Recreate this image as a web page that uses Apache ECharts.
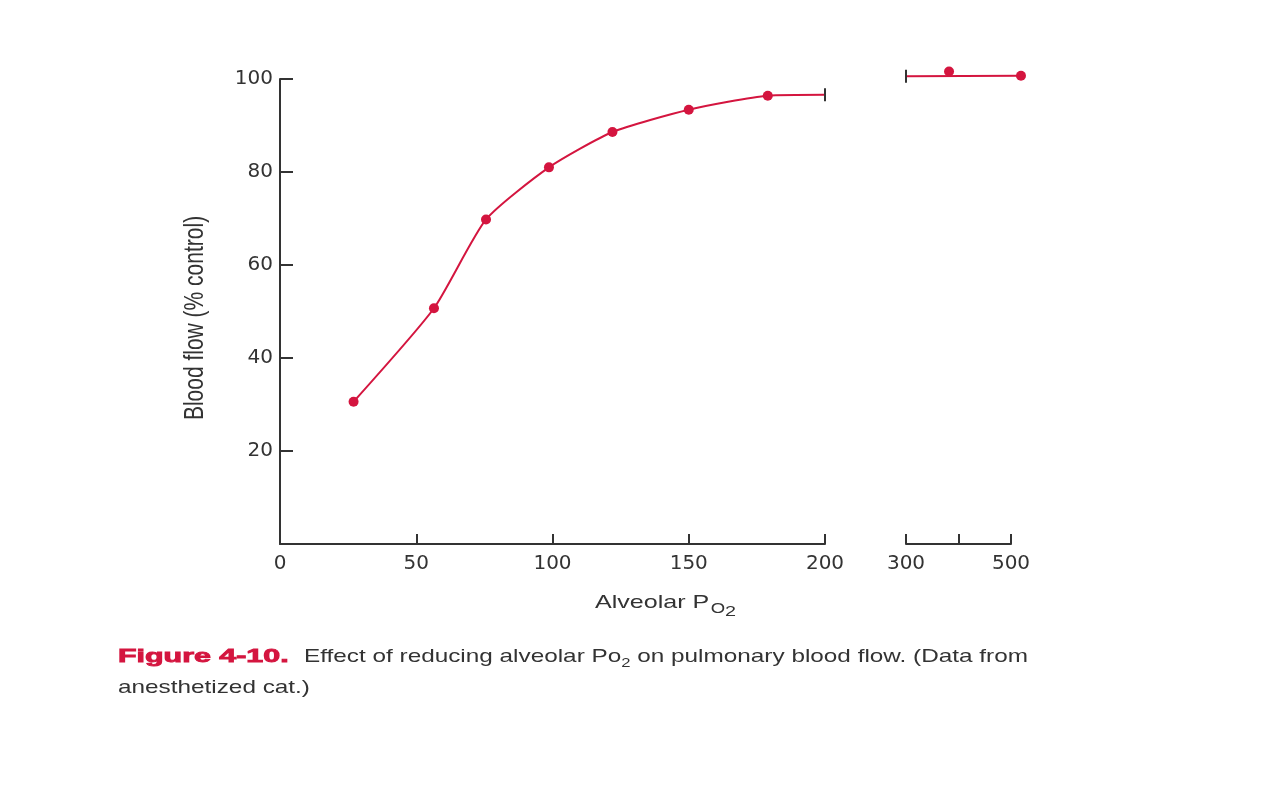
<!DOCTYPE html>
<html lang="en">
<head>
    <meta charset="UTF-8">
    <title>Figure 4-10</title>
    <style>
        html, body { margin: 0; padding: 0; background: #fff; }
    </style>
</head>
<body>
<div id="main" style="width: 1268px;height:788px;"></div>
<script src="https://cdn.jsdelivr.net/npm/echarts@6/dist/echarts.min.js"></script>

<script>
    // measured points, left part of the broken axis (PO2 0-200)
    var lowPo2 = [27, 56.5, 75.6, 98.7, 122, 150, 179];
    var lowFlow = [30.6, 50.7, 69.8, 81, 88.6, 93.4, 96.4];
    // where the left curve stops at the break
    var lowEnd = [200, 96.6];

    // measured points, right part (PO2 300-500)
    var highPo2 = [382, 519];
    var highFlow = [101.6, 100.7];
    // where the right curve starts after the break
    var highStart = [300, 100.6];

    var yTicks = [20, 40, 60, 80, 100];
    var lowTicks = [0, 50, 100, 150, 200];
    var highTicks = [300, 400, 500];
    var highLabels = ['300', '', '500'];

    var red = '#d4153f';
    var ink = '#333333';
    var font = '"Liberation Sans", Arial, Helvetica, sans-serif';
    var tickFont = '"DejaVu Sans", "Liberation Sans", sans-serif';
</script>
<script>
    var myChart = echarts.init(document.getElementById('main'));

    function pairs(xs, ys) {
        var out = [];
        for (var i = 0; i < xs.length; i++) {
            out.push([xs[i], ys[i]]);
        }
        return out;
    }

    var lowPts = pairs(lowPo2, lowFlow);
    var highPts = pairs(highPo2, highFlow);
    var lowCurve = lowPts.concat([lowEnd]);
    var highCurve = [highStart].concat([highPts[highPts.length - 1]]);

    var axisLine = {show: true, lineStyle: {color: ink, width: 2}};
    var xTick = {show: true, inside: true, length: 10, lineStyle: {color: ink, width: 2}};
    var yTick = {show: true, inside: true, length: 13, lineStyle: {color: ink, width: 2}};
    var labelStyle = {color: ink, fontSize: 20, fontFamily: tickFont};

    // right part: the visible axis stops at 500, the data run a bit past it,
    // so the marks sit on a hidden grid with the same scale (0.525 px per unit)
    var highPx = 105 / (500 - 300);
    var highDataMax = 520;

    var option = {
        animation: false,
        backgroundColor: '#fff',
        grid: [
            {left: 280, top: 79, width: 545, height: 465},
            {left: 906, top: 79, width: 105, height: 465},
            {left: 906, top: 79, width: (highDataMax - 300) * highPx, height: 465}
        ],
        xAxis: [
            {
                type: 'value', gridIndex: 0, min: 0, max: 200, interval: 50,
                axisLine: axisLine,
                axisTick: xTick,
                splitLine: {show: false},
                axisLabel: Object.assign({margin: 10, showMinLabel: true, showMaxLabel: true}, labelStyle)
            },
            {
                type: 'value', gridIndex: 1, min: 300, max: 500, interval: 100,
                axisLine: axisLine,
                axisTick: xTick,
                splitLine: {show: false},
                axisLabel: Object.assign({
                    margin: 10,
                    showMinLabel: true, showMaxLabel: true,
                    formatter: function (v) {
                        var i = highTicks.indexOf(v);
                        return i >= 0 ? highLabels[i] : '';
                    }
                }, labelStyle)
            },
            {
                type: 'value', gridIndex: 2, min: 300, max: highDataMax, show: false
            }
        ],
        yAxis: [
            {
                type: 'value', gridIndex: 0, min: 0, max: 100, interval: 20,
                axisLine: axisLine,
                axisTick: yTick,
                splitLine: {show: false},
                axisLabel: Object.assign({
                    margin: 7,
                    formatter: function (v) { return yTicks.indexOf(v) >= 0 ? String(v) : ''; }
                }, labelStyle)
            },
            {
                type: 'value', gridIndex: 1, min: 0, max: 100, show: false
            },
            {
                type: 'value', gridIndex: 2, min: 0, max: 100, show: false
            }
        ],
        graphic: [
            {
                type: 'text', x: 195, y: 318, rotation: Math.PI / 2, scaleY: 1.3,
                style: {
                    text: 'Blood flow (% control)',
                    x: 0, y: 0, align: 'center', verticalAlign: 'middle',
                    fontFamily: font, fontSize: 21, fill: ink
                }
            },
            {
                type: 'text', x: 595, y: 603, scaleX: 1.32,
                style: {
                    text: 'Alveolar P{o|O}{two|2}',
                    x: 0, y: 0, verticalAlign: 'middle',
                    fontFamily: font, fontSize: 19, fill: ink,
                    rich: {
                        o: {fontFamily: font, fontSize: 14, fill: ink, padding: [12, 0, 0, 1]},
                        two: {fontFamily: font, fontSize: 15, fill: ink, padding: [18, 0, 0, 0]}
                    }
                }
            },
            {
                type: 'text', x: 118, y: 657, scaleX: 1.6,
                style: {
                    text: 'Figure 4-10.',
                    x: 0, y: 0, verticalAlign: 'middle',
                    fontFamily: font, fontSize: 19, fontWeight: 'bold', fill: red,
                    stroke: red, lineWidth: 0.9
                }
            },
            {
                type: 'text', x: 304, y: 657, scaleX: 1.28,
                style: {
                    text: 'Effect of reducing alveolar Po{s|2} on pulmonary blood flow. (Data from',
                    x: 0, y: 0, verticalAlign: 'middle',
                    fontFamily: font, fontSize: 19, fill: ink,
                    rich: {
                        s: {fontFamily: font, fontSize: 13, fill: ink, padding: [12, 0, 0, 0]}
                    }
                }
            },
            {
                type: 'text', x: 118, y: 688, scaleX: 1.28,
                style: {
                    text: 'anesthetized cat.)',
                    x: 0, y: 0, verticalAlign: 'middle',
                    fontFamily: font, fontSize: 19, fill: ink
                }
            }
        ],
        series: [
            {
                name: 'curve low', type: 'line', xAxisIndex: 0, yAxisIndex: 0,
                data: lowCurve, smooth: 0.2, showSymbol: false, clip: false,
                lineStyle: {color: red, width: 2}
            },
            {
                name: 'points low', type: 'scatter', xAxisIndex: 0, yAxisIndex: 0,
                data: lowPts, symbolSize: 10, clip: false,
                itemStyle: {color: red, opacity: 1}
            },
            {
                name: 'curve high', type: 'line', xAxisIndex: 2, yAxisIndex: 2,
                data: highCurve, showSymbol: false, clip: false,
                lineStyle: {color: red, width: 2}
            },
            {
                name: 'points high', type: 'scatter', xAxisIndex: 2, yAxisIndex: 2,
                data: highPts, symbolSize: 10, clip: false,
                itemStyle: {color: red, opacity: 1}
            },
            {
                name: 'break caps low', type: 'scatter', xAxisIndex: 0, yAxisIndex: 0,
                data: [lowEnd], symbol: 'rect', symbolSize: [2, 13], clip: false,
                itemStyle: {color: ink, opacity: 1}, z: 5
            },
            {
                name: 'break caps high', type: 'scatter', xAxisIndex: 2, yAxisIndex: 2,
                data: [highStart], symbol: 'rect', symbolSize: [2, 13], clip: false,
                itemStyle: {color: ink, opacity: 1}, z: 5
            }
        ]
    };
    myChart.setOption(option);
</script>
</body>
</html>
